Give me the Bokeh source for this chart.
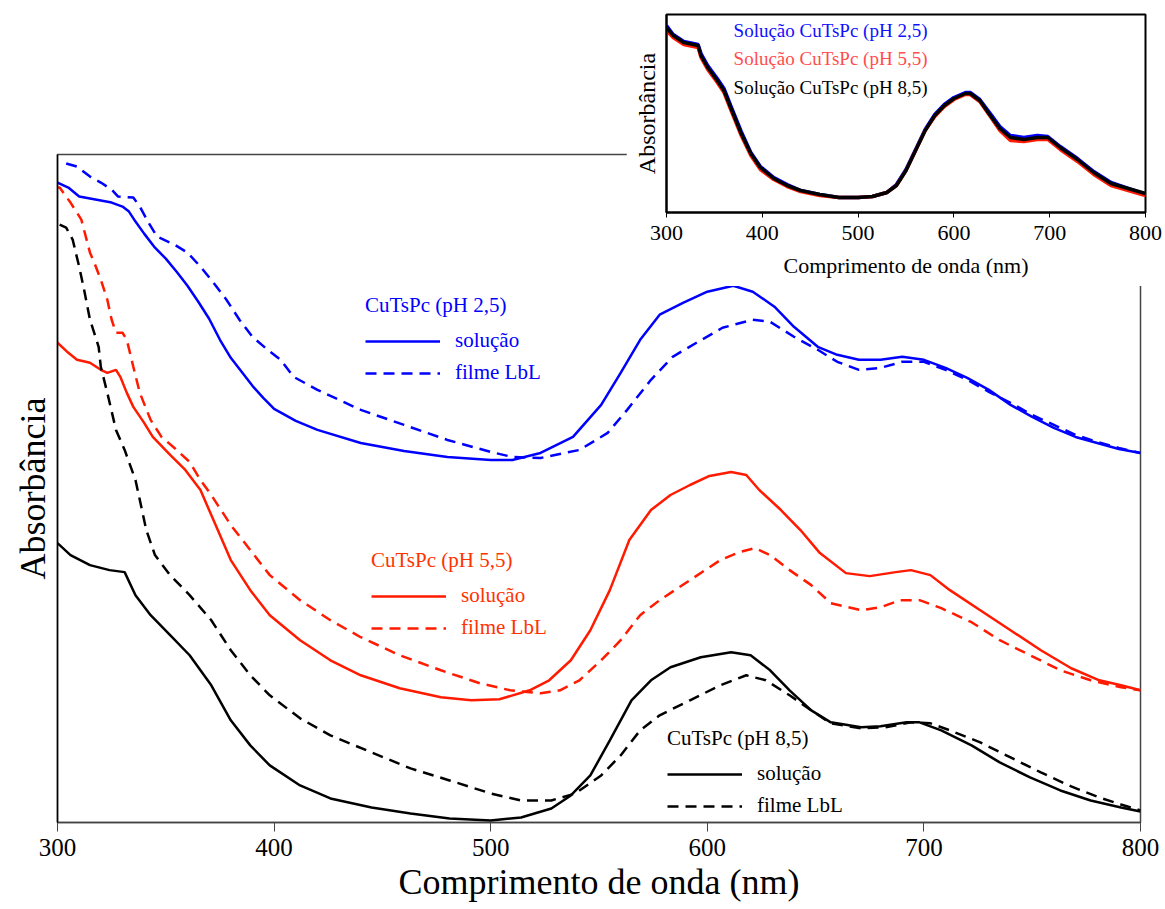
from bokeh.plotting import figure
from bokeh.models import Range1d, FixedTicker, Legend, LegendItem, Label
from bokeh.embed import file_html
from bokeh.resources import INLINE

# ---------------- main chart data (absorbance, arbitrary units) ----------------
wl_b_sol = [300, 305, 310, 315, 320, 325, 330, 333, 336, 340, 345, 350, 355, 360, 365, 370, 375, 380, 385, 390,
            395, 400, 410, 420, 440, 460, 480, 500, 510, 523, 538, 551, 560, 569, 578, 589, 600, 612, 621, 631,
            640, 651, 660, 670, 680, 690, 700, 710, 720, 730, 740, 750, 760, 770, 780, 790, 800]
ab_b_sol = [1.278, 1.268, 1.250, 1.246, 1.242, 1.238, 1.230, 1.220, 1.200, 1.176, 1.148, 1.126, 1.100, 1.072, 1.040,
            1.006, 0.964, 0.928, 0.900, 0.872, 0.848, 0.826, 0.802, 0.784, 0.758, 0.742, 0.730, 0.724, 0.724, 0.738,
            0.770, 0.834, 0.898, 0.964, 1.014, 1.038, 1.060, 1.072, 1.060, 1.030, 0.990, 0.950, 0.934, 0.924, 0.924,
            0.930, 0.924, 0.908, 0.888, 0.864, 0.834, 0.810, 0.788, 0.770, 0.758, 0.746, 0.738]

wl_b_film = [304, 309, 315, 320, 325, 328, 335, 338, 342, 346, 354, 360, 366, 372, 378, 384, 390, 397, 403, 409,
             420, 440, 460, 480, 500, 510, 523, 541, 554, 563, 574, 584, 595, 607, 621, 629, 640, 651, 660, 670,
             680, 690, 700, 710, 720, 730, 740, 750, 760, 770, 780, 790, 800]
ab_b_film = [1.316, 1.310, 1.290, 1.278, 1.264, 1.250, 1.248, 1.230, 1.198, 1.170, 1.154, 1.138, 1.110, 1.078, 1.044,
             1.004, 0.970, 0.944, 0.924, 0.890, 0.864, 0.824, 0.794, 0.764, 0.740, 0.730, 0.728, 0.744, 0.778, 0.824,
             0.884, 0.930, 0.958, 0.988, 1.004, 1.000, 0.970, 0.944, 0.920, 0.904, 0.908, 0.920, 0.920, 0.904, 0.884,
             0.860, 0.838, 0.814, 0.794, 0.774, 0.760, 0.748, 0.738]

wl_r_sol = [298, 300, 305, 309, 315, 320, 323, 327, 329, 332, 335, 340, 344, 352, 359, 366, 371, 380, 389, 398,
            412, 426, 440, 458, 477, 491, 504, 518, 527, 537, 546, 555, 564, 574, 583, 592, 601, 611, 618, 624,
            634, 643, 652, 664, 675, 687, 694, 703, 712, 726, 740, 754, 768, 781, 791, 800]
ab_r_sol = [0.968, 0.958, 0.938, 0.924, 0.918, 0.904, 0.898, 0.904, 0.890, 0.858, 0.830, 0.798, 0.770, 0.734, 0.704,
            0.664, 0.614, 0.524, 0.464, 0.414, 0.364, 0.324, 0.294, 0.268, 0.250, 0.244, 0.246, 0.264, 0.284, 0.324,
            0.384, 0.464, 0.564, 0.624, 0.654, 0.674, 0.692, 0.700, 0.694, 0.664, 0.624, 0.584, 0.538, 0.498, 0.492,
            0.500, 0.504, 0.494, 0.464, 0.424, 0.384, 0.344, 0.308, 0.284, 0.274, 0.264]

wl_r_film = [299, 301, 306, 311, 315, 317, 320, 323, 325, 327, 330, 332, 335, 338, 343, 348, 354, 361, 366, 371,
             380, 389, 398, 412, 426, 440, 458, 477, 495, 509, 523, 532, 541, 551, 560, 569, 578, 592, 606, 615,
             622, 629, 638, 648, 657, 671, 680, 689, 698, 708, 722, 735, 749, 763, 777, 791, 800]
ab_r_film = [1.268, 1.268, 1.238, 1.204, 1.138, 1.118, 1.084, 1.044, 1.004, 0.978, 0.978, 0.964, 0.910, 0.858, 0.804,
             0.770, 0.748, 0.720, 0.684, 0.654, 0.594, 0.544, 0.494, 0.444, 0.404, 0.370, 0.334, 0.304, 0.278, 0.264,
             0.258, 0.264, 0.284, 0.324, 0.364, 0.414, 0.444, 0.484, 0.524, 0.540, 0.548, 0.534, 0.504, 0.474, 0.438,
             0.424, 0.430, 0.444, 0.444, 0.428, 0.400, 0.364, 0.334, 0.304, 0.284, 0.270, 0.264]

wl_k_sol = [300, 306, 315, 324, 331, 336, 343, 352, 361, 371, 380, 389, 398, 412, 426, 445, 463, 481, 500, 514,
            528, 537, 546, 555, 565, 574, 583, 597, 611, 620, 629, 638, 648, 657, 671, 680, 692, 698, 708, 722,
            735, 749, 763, 777, 791, 800]
ab_k_sol = [0.558, 0.534, 0.514, 0.504, 0.500, 0.454, 0.414, 0.374, 0.334, 0.274, 0.204, 0.154, 0.114, 0.074, 0.048,
            0.030, 0.018, 0.008, 0.004, 0.010, 0.028, 0.054, 0.094, 0.164, 0.244, 0.284, 0.310, 0.330, 0.340, 0.334,
            0.304, 0.264, 0.224, 0.200, 0.190, 0.192, 0.200, 0.200, 0.184, 0.154, 0.120, 0.090, 0.064, 0.044, 0.030,
            0.022]

wl_k_film = [301, 304, 307, 310, 312, 315, 319, 320, 323, 327, 331, 336, 341, 345, 352, 361, 371, 380, 389, 398,
             412, 426, 445, 463, 481, 500, 514, 528, 539, 551, 560, 569, 578, 592, 606, 618, 627, 638, 648, 657,
             671, 682, 694, 703, 712, 726, 740, 754, 768, 781, 791, 800]
ab_k_film = [1.194, 1.188, 1.164, 1.110, 1.070, 1.004, 0.950, 0.910, 0.858, 0.784, 0.744, 0.684, 0.584, 0.534, 0.494,
             0.454, 0.404, 0.344, 0.294, 0.254, 0.208, 0.174, 0.140, 0.108, 0.084, 0.058, 0.044, 0.044, 0.058, 0.094,
             0.134, 0.184, 0.214, 0.244, 0.274, 0.294, 0.284, 0.254, 0.224, 0.198, 0.188, 0.190, 0.200, 0.198, 0.184,
             0.160, 0.130, 0.100, 0.072, 0.050, 0.036, 0.024]

x_ticks = [300, 400, 500, 600, 700, 800]

# ---------------- inset data (solutions only) ----------------
wl_in = [300, 307, 318, 328, 333, 336, 343, 353, 360, 367, 378, 388, 398, 412, 426, 440, 460, 480, 500, 515,
         530, 540, 550, 560, 570, 580, 590, 600, 612, 617, 627, 638, 648, 659, 673, 687, 698, 711, 729, 746,
         764, 782, 800]
ab_in_b = [1.87, 1.78, 1.71, 1.69, 1.68, 1.59, 1.47, 1.34, 1.24, 1.07, 0.81, 0.60, 0.46, 0.35, 0.28, 0.22, 0.18,
           0.15, 0.15, 0.16, 0.20, 0.28, 0.43, 0.63, 0.83, 0.98, 1.08, 1.15, 1.20, 1.20, 1.13, 0.99, 0.86, 0.77,
           0.75, 0.77, 0.76, 0.66, 0.54, 0.41, 0.30, 0.24, 0.18]
ab_in_r = [1.82, 1.75, 1.68, 1.66, 1.65, 1.55, 1.43, 1.30, 1.20, 1.03, 0.77, 0.57, 0.43, 0.33, 0.26, 0.21, 0.17,
           0.15, 0.15, 0.16, 0.20, 0.27, 0.42, 0.62, 0.82, 0.96, 1.06, 1.13, 1.18, 1.18, 1.11, 0.96, 0.82, 0.72,
           0.71, 0.73, 0.73, 0.63, 0.51, 0.38, 0.27, 0.22, 0.17]
ab_in_k = [1.85, 1.77, 1.70, 1.68, 1.67, 1.57, 1.45, 1.32, 1.22, 1.05, 0.79, 0.59, 0.45, 0.34, 0.27, 0.22, 0.18,
           0.15, 0.15, 0.16, 0.20, 0.27, 0.42, 0.62, 0.82, 0.97, 1.07, 1.14, 1.19, 1.19, 1.12, 0.97, 0.84, 0.75,
           0.73, 0.75, 0.75, 0.65, 0.53, 0.40, 0.29, 0.24, 0.19]

BLUE = "#0000ff"
RED = "#ff1a00"
RED_TXT = "#ff3300"
BLACK = "#000000"
SERIF = "Liberation Serif"

# ---------------- main figure ----------------
p = figure(width=1165, height=909, x_range=Range1d(300, 800), y_range=Range1d(0, 1.334),
           output_backend="svg", toolbar_location=None,
           min_border_left=57, min_border_right=25, min_border_top=154, min_border_bottom=87)
p.background_fill_color = "white"
p.border_fill_color = "white"
p.outline_line_color = "#444444"
p.outline_line_width = 1.5
p.xgrid.visible = False
p.ygrid.visible = False

p.xaxis.ticker = FixedTicker(ticks=x_ticks)
p.xaxis.major_label_text_font = SERIF
p.xaxis.major_label_text_font_size = "25px"
p.xaxis.major_label_text_color = "black"
p.xaxis.major_tick_out = 9
p.xaxis.major_tick_in = 0
p.xaxis.minor_tick_out = 0
p.xaxis.minor_tick_in = 0
p.xaxis.major_label_standoff = 7
p.xaxis.axis_line_color = "#444444"
p.xaxis.axis_line_width = 1.5
p.xaxis.major_tick_line_color = "#444444"
p.xaxis.axis_label = "Comprimento de onda (nm)"
p.xaxis.axis_label_text_font = SERIF
p.xaxis.axis_label_text_font_size = "36px"
p.xaxis.axis_label_text_font_style = "normal"
p.xaxis.axis_label_text_color = "black"
p.xaxis.axis_label_standoff = 3

p.yaxis.ticker = FixedTicker(ticks=[])
p.yaxis.major_label_text_font_size = "0px"
p.yaxis.major_tick_out = 0
p.yaxis.minor_tick_out = 0
p.yaxis.axis_line_color = "black"
p.yaxis.axis_line_width = 1.5
p.yaxis.axis_label = "Absorbância"
p.yaxis.axis_label_text_font = SERIF
p.yaxis.axis_label_text_font_size = "36px"
p.yaxis.axis_label_text_font_style = "normal"
p.yaxis.axis_label_text_color = "black"
p.yaxis.axis_label_standoff = 5

LW = 2.5
DASH = "11 7"
r_b_sol = p.line(wl_b_sol, ab_b_sol, line_color=BLUE, line_width=LW)
r_b_film = p.line(wl_b_film, ab_b_film, line_color=BLUE, line_width=LW, line_dash=DASH)
r_r_sol = p.line(wl_r_sol, ab_r_sol, line_color=RED, line_width=LW)
r_r_film = p.line(wl_r_film, ab_r_film, line_color=RED, line_width=LW, line_dash=DASH)
r_k_sol = p.line(wl_k_sol, ab_k_sol, line_color=BLACK, line_width=LW)
r_k_film = p.line(wl_k_film, ab_k_film, line_color=BLACK, line_width=LW, line_dash=DASH)


def add_legend(title, color, r_sol, r_film, loc):
    lg = Legend(items=[LegendItem(label="solução", renderers=[r_sol]),
                       LegendItem(label="filme LbL", renderers=[r_film])],
                location=loc, title=title,
                title_text_font=SERIF, title_text_font_size="21px", title_text_font_style="normal",
                title_text_color=color, title_standoff=10,
                label_text_font=SERIF, label_text_font_size="21px", label_text_color=color,
                glyph_width=75, glyph_height=20, label_height=20, label_standoff=15,
                spacing=7, padding=0, margin=0,
                border_line_alpha=0, background_fill_alpha=0)
    p.add_layout(lg)


add_legend("CuTsPc (pH 2,5)", BLUE, r_b_sol, r_b_film, (308, 437))
add_legend("CuTsPc (pH 5,5)", RED_TXT, r_r_sol, r_r_film, (314, 182))
add_legend("CuTsPc (pH 8,5)", BLACK, r_k_sol, r_k_film, (610, 4))

# ---------------- inset figure (overlaid on the top-right corner) ----------------
inset = figure(width=539, height=286, x_range=Range1d(300, 800), y_range=Range1d(0, 1.98),
               output_backend="svg", toolbar_location=None,
               min_border_left=40, min_border_right=20, min_border_top=14, min_border_bottom=74)
inset.styles = {"position": "absolute", "left": "626px", "top": "0px", "z-index": "10"}
inset.background_fill_color = "white"
inset.border_fill_color = "white"
inset.outline_line_color = "black"
inset.outline_line_width = 2
inset.xgrid.visible = False
inset.ygrid.visible = False

inset.xaxis.ticker = FixedTicker(ticks=x_ticks)
inset.xaxis.major_label_text_font = SERIF
inset.xaxis.major_label_text_font_size = "22px"
inset.xaxis.major_label_text_color = "black"
inset.xaxis.major_tick_out = 5
inset.xaxis.major_tick_in = 0
inset.xaxis.minor_tick_out = 0
inset.xaxis.minor_tick_in = 0
inset.xaxis.major_label_standoff = 8
inset.xaxis.axis_line_color = "black"
inset.xaxis.axis_line_width = 2
inset.xaxis.axis_label = "Comprimento de onda (nm)"
inset.xaxis.axis_label_text_font = SERIF
inset.xaxis.axis_label_text_font_size = "22px"
inset.xaxis.axis_label_text_font_style = "normal"
inset.xaxis.axis_label_text_color = "black"
inset.xaxis.axis_label_standoff = 10

inset.yaxis.ticker = FixedTicker(ticks=[])
inset.yaxis.major_label_text_font_size = "0px"
inset.yaxis.major_tick_out = 0
inset.yaxis.minor_tick_out = 0
inset.yaxis.axis_line_color = "black"
inset.yaxis.axis_line_width = 2
inset.yaxis.axis_label = "Absorbância"
inset.yaxis.axis_label_text_font = SERIF
inset.yaxis.axis_label_text_font_size = "24px"
inset.yaxis.axis_label_text_font_style = "normal"
inset.yaxis.axis_label_text_color = "black"
inset.yaxis.axis_label_standoff = 7

inset.line(wl_in, ab_in_b, line_color=BLUE, line_width=3.5)
inset.line(wl_in, ab_in_r, line_color=RED, line_width=3.5)
inset.line(wl_in, ab_in_k, line_color=BLACK, line_width=3.5)

for txt, col, yv in [("Solução CuTsPc (pH 2,5)", "#1010ff", 1.82),
                     ("Solução CuTsPc (pH 5,5)", "#ff4d4d", 1.54),
                     ("Solução CuTsPc (pH 8,5)", BLACK, 1.25)]:
    inset.add_layout(Label(x=370, y=yv, text=txt, text_color=col, text_font=SERIF,
                           text_font_size="19px", text_baseline="middle", text_align="left"))

open("out.html", "w").write(file_html([p, inset], INLINE))
